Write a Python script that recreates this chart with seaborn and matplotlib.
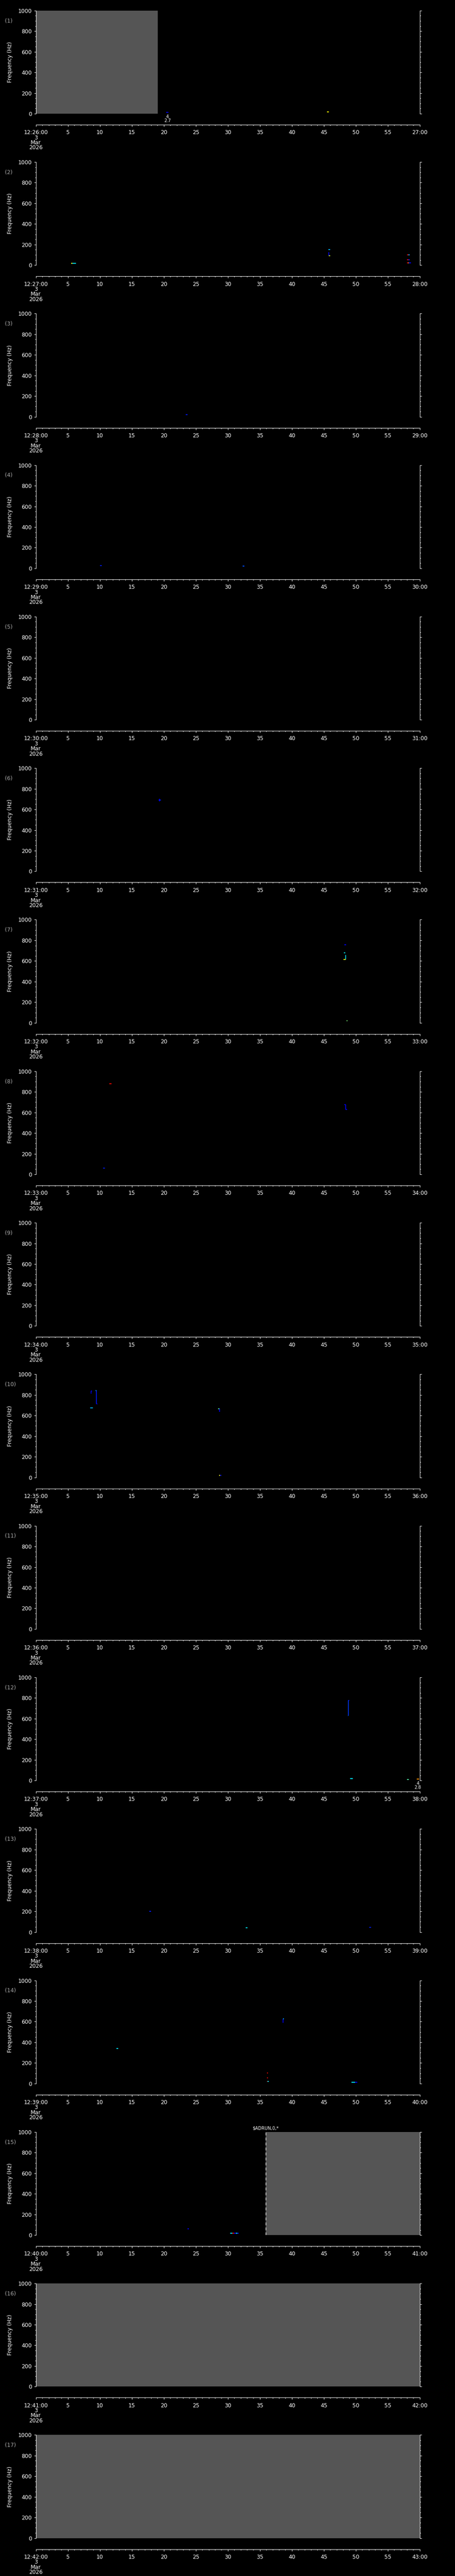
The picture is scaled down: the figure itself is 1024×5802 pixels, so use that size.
import matplotlib
matplotlib.use("Agg")
import matplotlib.pyplot as plt
from matplotlib.ticker import MultipleLocator
import seaborn as sns

# ---------------------------------------------------------
# Data (one-minute spectrogram strips, 3 Mar 2026)
# ---------------------------------------------------------
START_MIN = [26, 27, 28, 29, 30, 31, 32, 33, 34, 35, 36, 37, 38, 39, 40, 41, 42]
FREQ_TICKS = [0, 200, 400, 600, 800, 1000]
SEC_TICKS = [0, 5, 10, 15, 20, 25, 30, 35, 40, 45, 50, 55, 60]
SEC_LABELS = ["5", "10", "15", "20", "25", "30", "35", "40", "45", "50", "55"]

# data gaps (grey fill), seconds within the panel
GAP_PANEL = [1, 15, 16, 17]
GAP_START = [0.0, 35.9, 0.0, 0.0]
GAP_END = [19.05, 60.0, 60.0, 60.0]

# dashed marker with text at top
DASH_PANEL = [15]
DASH_T = [35.9]
DASH_TEXT = ["$ADRUN,0,*"]

# small value labels under the strip
MARK_PANEL = [1, 12]
MARK_T = [20.55, 59.7]
MARK_TEXT = ["4\n2.7", "4\n2.8"]

# spectrogram specks: panel, t0, t1 (s), f0, f1 (Hz), colour level (0-1, jet)
SPECK_PANEL = [1, 1,
               2, 2, 2, 2, 2, 2, 2, 2, 2, 2, 2, 2, 2,
               3, 4, 4, 6, 6,
               7, 7, 7, 7, 7,
               8, 8, 8, 8, 8,
               10, 10, 10, 10, 10, 10, 10, 10, 10, 10,
               12, 12, 12, 12, 12, 12,
               13, 13, 13,
               14, 14, 14, 14, 14, 14, 14, 14, 14, 14,
               15, 15, 15, 15, 15, 15, 15]
SPECK_T0 = [20.4, 45.5,
            5.5, 5.7, 45.7, 45.75, 45.8, 58.0, 58.2, 58.0, 58.2, 58.0, 58.2, 58.3, 58.45,
            23.4, 10.0, 32.3, 19.2, 19.35,
            48.2, 48.15, 48.4, 48.1, 48.56,
            48.2, 48.45, 48.45, 11.5, 10.5,
            9.45, 9.3, 9.45, 8.6, 8.6, 8.5, 28.5, 28.7, 28.6, 28.8,
            48.85, 48.85, 48.75, 49.1, 58.0, 59.5,
            17.7, 32.8, 52.1,
            12.6, 38.65, 38.65, 36.1, 36.1, 36.1, 36.2, 36.8, 49.3, 49.9,
            23.7, 23.8, 30.4, 30.7, 31.0, 31.3, 31.5]
SPECK_T1 = [20.7, 45.8,
            5.7, 6.3, 46.0, 45.75, 46.0, 58.2, 58.4, 58.2, 58.4, 58.2, 58.3, 58.45, 58.6,
            23.7, 10.3, 32.6, 19.5, 19.35,
            48.5, 48.35, 48.4, 48.4, 48.7,
            48.45, 48.45, 48.6, 11.8, 10.8,
            9.45, 9.45, 9.6, 8.6, 8.75, 8.9, 28.7, 28.7, 28.8, 28.95,
            48.85, 49.0, 48.85, 49.5, 58.3, 59.9,
            18.0, 33.1, 52.4,
            12.9, 38.65, 38.8, 36.3, 36.3, 36.2, 36.4, 36.8, 49.9, 50.2,
            23.9, 23.9, 30.7, 31.0, 31.3, 31.5, 31.7]
SPECK_F0 = [12, 16,
            18, 20, 153, 93, 93, 99, 99, 52, 52, 21, 21, 21, 21,
            20, 25, 22, 690, 680,
            756, 679, 615, 613, 21,
            674, 628, 628, 880, 60,
            713, 844, 713, 812, 838, 673, 665, 636, 19, 19,
            629, 775, 629, 17, 9, 13,
            200, 40, 45,
            339, 587, 628, 102, 55, 21, 21, 92, 12, 12,
            62, 62, 18, 18, 18, 18, 18]
SPECK_F1 = [12, 16,
            18, 20, 153, 125, 93, 99, 99, 52, 52, 21, 21, 21, 21,
            20, 25, 22, 690, 705,
            756, 679, 658, 613, 21,
            674, 674, 628, 880, 60,
            844, 844, 713, 838, 838, 673, 665, 665, 19, 19,
            775, 775, 629, 17, 9, 13,
            200, 40, 45,
            339, 628, 628, 102, 55, 21, 21, 92, 12, 12,
            62, 72, 18, 18, 18, 18, 18]
SPECK_LEVEL = [0.12, 0.65,
               0.65, 0.35, 0.3, 0.12, 0.6, 0.9, 0.3, 0.9, 0.15, 0.9, 0.65, 0.12, 0.12,
               0.15, 0.15, 0.2, 0.15, 0.12,
               0.12, 0.35, 0.35, 0.65, 0.5,
               0.12, 0.12, 0.12, 0.9, 0.15,
               0.15, 0.25, 0.12, 0.1, 0.1, 0.3, 0.45, 0.12, 0.65, 0.15,
               0.18, 0.15, 0.2, 0.35, 0.45, 0.75,
               0.15, 0.35, 0.15,
               0.35, 0.12, 0.3, 0.9, 0.9, 0.9, 0.35, 0.65, 0.35, 0.12,
               0.12, 0.12, 0.35, 0.9, 0.12, 0.35, 0.15]

# ---------------------------------------------------------
# Style
# ---------------------------------------------------------
sns.set_theme(style="dark", rc={
    "axes.facecolor": "black", "figure.facecolor": "black",
    "axes.edgecolor": "white", "text.color": "white",
    "xtick.color": "white", "ytick.color": "white",
    "axes.labelcolor": "white", "axes.grid": False,
})
plt.rcParams["font.family"] = ["DejaVu Sans"]

W, H = 1024, 5802
PITCH = H / len(START_MIN)
X0, X1 = 80.7, 944.7
TOP, BOT = 23.7, 256.0
FS = 8.8
cmap = plt.get_cmap("jet")

fig = plt.figure(figsize=(W / 100, H / 100), dpi=100)

for k, m in enumerate(START_MIN):
    p = k + 1
    off = k * PITCH
    ax = fig.add_axes([X0 / W, 1 - (off + BOT) / H, (X1 - X0) / W, (BOT - TOP) / H])
    ax.set_facecolor("black")
    ax.set_xlim(0, 60)
    ax.set_ylim(0, 1000)

    for g, s, e in zip(GAP_PANEL, GAP_START, GAP_END):
        if g == p:
            ax.axvspan(s, e, color="#555555", lw=0, zorder=0.5)

    for sp, t0, t1, f0, f1, lv in zip(SPECK_PANEL, SPECK_T0, SPECK_T1,
                                      SPECK_F0, SPECK_F1, SPECK_LEVEL):
        if sp == p:
            if t0 == t1:
                ax.vlines(t0, f0, f1, color=cmap(lv), lw=1.2, zorder=2)
            else:
                ax.hlines(f0, t0, t1, color=cmap(lv), lw=1.4, zorder=2)

    for dp, dt, dtx in zip(DASH_PANEL, DASH_T, DASH_TEXT):
        if dp == p:
            ax.axvline(dt, color="white", lw=0.9, ls=(0, (5, 4)), zorder=3)
            ax.annotate(dtx, xy=(dt, 1), xycoords=("data", "axes fraction"),
                        xytext=(0, 2.5), textcoords="offset points",
                        ha="center", va="bottom", fontsize=7, color="white")

    for mp, mt, mtx in zip(MARK_PANEL, MARK_T, MARK_TEXT):
        if mp == p:
            ax.annotate(mtx, xy=(mt, 0), xycoords=("data", "axes fraction"),
                        xytext=(0, -1.5), textcoords="offset points",
                        ha="center", va="top", fontsize=7, color="white",
                        linespacing=0.85, annotation_clip=False)

    # axes frame: left/right frequency axes, detached time axis below
    for side in ["left", "right", "bottom"]:
        ax.spines[side].set_visible(True)
        ax.spines[side].set_color("white")
        ax.spines[side].set_linewidth(0.75)
    ax.spines["top"].set_visible(False)
    ax.spines["bottom"].set_position(("outward", 18))

    ax.set_yticks(FREQ_TICKS)
    ax.set_yticklabels([str(v) for v in FREQ_TICKS])
    ax.yaxis.set_minor_locator(MultipleLocator(50))
    labels = [f"12:{m:02d}:00\n3\nMar\n2026"] + SEC_LABELS + [f"{m + 1:02d}:00"]
    ax.set_xticks(SEC_TICKS)
    ax.set_xticklabels(labels)
    ax.xaxis.set_minor_locator(MultipleLocator(1))

    ax.tick_params(axis="x", which="both", bottom=True, top=False, direction="out",
                   colors="white", width=0.75, labelsize=FS, pad=5)
    ax.tick_params(axis="x", which="major", length=3.1)
    ax.tick_params(axis="x", which="minor", length=1.7)
    ax.tick_params(axis="y", which="both", left=True, right=True, labelright=False,
                   direction="out", colors="white", width=0.75, labelsize=FS, pad=3.5)
    ax.tick_params(axis="y", which="major", length=3)
    ax.tick_params(axis="y", which="minor", length=1.6)
    for lab in ax.get_xticklabels():
        lab.set_linespacing(0.84)

    fig.text(23 / W, 1 - (off + (TOP + BOT) / 2) / H, "Frequency (Hz)",
             rotation=90, ha="center", va="center", fontsize=FS, color="white")
    fig.text(11.5 / W, 1 - (off + 47) / H, f"({p})",
             ha="left", va="center", fontsize=FS, color="#a8a8a8")

fig.savefig("out.png", dpi=100, facecolor="black")
plt.close(fig)
